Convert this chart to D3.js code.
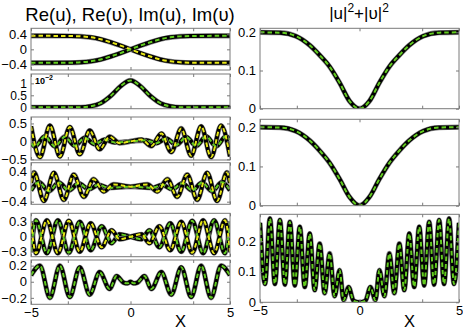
<!DOCTYPE html>
<html><head><meta charset="utf-8">
<script src="https://cdn.jsdelivr.net/npm/d3@7"></script>
<style>
html,body{margin:0;padding:0;background:#fff;}
svg{display:block;font-family:"Liberation Sans",Arial,sans-serif;}
</style></head>
<body><svg id="c" width="463" height="333"></svg>
<script>
// ---------- data (extrema / sample points) ----------
const xTicks = [-5, 0, 5];
const xMinorTicks = [-3.15, 3.15];
const titleLeft = "Re(u), Re(\u03c5), Im(u), Im(\u03c5)";
const xLabel = "X";

const p1Yellow = [[-5,0.36],[-3,0.355],[-2.5,0.345],[-2,0.32],[-1.5,0.27],[-1,0.19],[-0.5,0.1],[0,0],[0.5,-0.1],[1,-0.19],[1.5,-0.27],[2,-0.32],[2.5,-0.345],[3,-0.355],[5,-0.36]];
const p1Green  = [[-5,-0.36],[-3,-0.355],[-2.5,-0.345],[-2,-0.32],[-1.5,-0.27],[-1,-0.19],[-0.5,-0.1],[0,0],[0.5,0.1],[1,0.19],[1.5,0.27],[2,0.32],[2.5,0.345],[3,0.355],[5,0.36]];
const p1Ticks = [-0.4, 0, 0.4];

const p2Green = [[-5,0],[-2.5,0],[-2,0.04],[-1.5,0.17],[-1,0.47],[-0.5,0.88],[0,1.12],[0.5,0.88],[1,0.47],[1.5,0.17],[2,0.04],[2.5,0],[5,0]];
const p2Ticks = [0, 0.5, 1];

const p3Yellow = [[-5,0.42],[-4.55,-0.44],[-4.05,0.44],[-3.55,-0.42],[-3.05,0.4],[-2.55,-0.36],[-2.05,0.3],[-1.55,-0.22],[-1.05,0.13],[-0.55,-0.05],[0,0],[0.55,0.05],[1.05,-0.13],[1.55,0.22],[2.05,-0.3],[2.55,0.36],[3.05,-0.4],[3.55,0.42],[4.05,-0.44],[4.55,0.44],[5,-0.42]];
const p3Green  = [[-5,-0.05],[-4.8,-0.14],[-4.3,0.14],[-3.8,-0.14],[-3.3,0.13],[-2.8,-0.12],[-2.3,0.1],[-1.8,-0.08],[-1.3,0.05],[-0.8,-0.03],[0,0],[0.8,0.03],[1.3,-0.05],[1.8,0.08],[2.3,-0.1],[2.8,0.12],[3.3,-0.13],[3.8,0.14],[4.3,-0.14],[4.8,0.14],[5,0.05]];
const p3Ticks = [-0.5, 0, 0.5];

const p4Yellow = [[-5,0.1],[-4.85,0.38],[-4.35,-0.38],[-3.85,0.37],[-3.35,-0.35],[-2.85,0.32],[-2.35,-0.27],[-1.85,0.2],[-1.35,-0.13],[-0.85,0.06],[0,0],[0.85,0.06],[1.35,-0.13],[1.85,0.2],[2.35,-0.27],[2.85,0.32],[3.35,-0.35],[3.85,0.37],[4.35,-0.38],[4.85,0.38],[5,0.1]];
const p4Green  = [[-5,-0.1],[-4.6,0.12],[-4.1,-0.12],[-3.6,0.11],[-3.1,-0.1],[-2.6,0.09],[-2.1,-0.07],[-1.6,0.05],[-1.1,-0.03],[0,0],[1.1,-0.03],[1.6,0.05],[2.1,-0.07],[2.6,0.09],[3.1,-0.1],[3.6,0.11],[4.1,-0.12],[4.6,0.12],[5,-0.1]];
const p4Ticks = [-0.4, 0, 0.4];

const p5Yellow = [[-5,0.3],[-4.75,-0.33],[-4.2,0.33],[-3.65,-0.33],[-3.1,0.32],[-2.55,-0.3],[-2,0.27],[-1.45,-0.21],[-0.95,0.13],[-0.55,-0.05],[0,0],[0.55,0.05],[0.95,-0.13],[1.45,0.21],[2,-0.27],[2.55,0.3],[3.1,-0.32],[3.65,0.33],[4.2,-0.33],[4.75,0.33],[5,-0.3]];
const p5Green  = [[-5,-0.3],[-4.75,0.33],[-4.2,-0.33],[-3.65,0.33],[-3.1,-0.32],[-2.55,0.3],[-2,-0.27],[-1.45,0.21],[-0.95,-0.13],[-0.55,0.05],[0,0],[0.55,-0.05],[0.95,0.13],[1.45,-0.21],[2,0.27],[2.55,-0.3],[3.1,0.32],[3.65,-0.33],[4.2,0.33],[4.75,-0.33],[5,0.3]];
const p5Ticks = [-0.3, 0, 0.3];

const p6Green = [[-5,0.08],[-4.55,0.2],[-4.05,-0.2],[-3.55,0.2],[-3.05,-0.19],[-2.55,0.18],[-2.05,-0.16],[-1.55,0.12],[-1.05,-0.09],[-0.7,0.07],[-0.35,-0.01],[-0.15,-0.02],[0,0],[0.15,-0.02],[0.35,-0.01],[0.7,0.07],[1.05,-0.09],[1.55,0.12],[2.05,-0.16],[2.55,0.18],[3.05,-0.19],[3.55,0.2],[4.05,-0.2],[4.55,0.2],[5,0.08]];
const p6Ticks = [-0.2, 0, 0.2];

const r1Green = [[-5,0.2],[-4,0.199],[-3.2,0.19],[-2.5,0.166],[-2,0.14],[-1.5,0.11],[-1,0.068],[-0.5,0.02],[0,0],[0.5,0.02],[1,0.068],[1.5,0.11],[2,0.14],[2.5,0.166],[3.2,0.19],[4,0.199],[5,0.2]];
const r1Ticks = [0, 0.1, 0.2];
const r2Green = [[-5,0.2],[-4,0.199],[-3.2,0.19],[-2.5,0.166],[-2,0.14],[-1.5,0.109],[-1,0.068],[-0.5,0.022],[0,0],[0.5,0.022],[1,0.068],[1.5,0.109],[2,0.14],[2.5,0.166],[3.2,0.19],[4,0.199],[5,0.2]];
const r2Ticks = [0, 0.1, 0.2];
const r3Green = [[-5,0.26],[-4.75,0.06],[-4.5,0.274],[-4.25,0.06],[-4.0,0.269],[-3.75,0.058],[-3.5,0.263],[-3.25,0.055],[-3.0,0.247],[-2.75,0.05],[-2.5,0.225],[-2.25,0.04],[-2.0,0.192],[-1.75,0.03],[-1.5,0.16],[-1.25,0.02],[-1.0,0.105],[-0.8,0.007],[-0.55,0.05],[-0.3,0.005],[0,0],[0.3,0.005],[0.55,0.05],[0.8,0.007],[1.0,0.105],[1.25,0.02],[1.5,0.16],[1.75,0.03],[2.0,0.192],[2.25,0.04],[2.5,0.225],[2.75,0.05],[3.0,0.247],[3.25,0.055],[3.5,0.263],[3.75,0.058],[4.0,0.269],[4.25,0.06],[4.5,0.274],[4.75,0.06],[5,0.26]];
const r3Ticks = [0, 0.1, 0.2];

// ---------- layout ----------
const svg = d3.select("#c");
const YEL = "#e6e617", GRN = "#62cc1f";
const L = [31, 230], R = [260, 459];

const panels = [
  {xr:L, yr:[28.3,70],  dom:[-0.55,0.56], ticks:p1Ticks, series:[[p1Yellow,YEL],[p1Green,GRN]]},
  {xr:L, yr:[74,108.7], dom:[-0.06,1.39], ticks:p2Ticks, series:[[p2Green,GRN]], exp:true, fs:12},
  {xr:L, yr:[117,160],  dom:[-0.52,0.68], ticks:p3Ticks, series:[[p3Green,GRN],[p3Yellow,YEL]]},
  {xr:L, yr:[162.7,204.3], dom:[-0.47,0.64], ticks:p4Ticks, series:[[p4Green,GRN],[p4Yellow,YEL]]},
  {xr:L, yr:[213.3,256.7], dom:[-0.4,0.47], ticks:p5Ticks, series:[[p5Green,GRN],[p5Yellow,YEL]]},
  {xr:L, yr:[260,304.3], dom:[-0.28,0.27], ticks:p6Ticks, series:[[p6Green,GRN]], xlab:true},
  {xr:R, yr:[28.3,108.7], dom:[0,0.2105], ticks:r1Ticks, series:[[r1Green,GRN]]},
  {xr:R, yr:[119.3,205.7], dom:[0,0.22], ticks:r2Ticks, series:[[r2Green,GRN]]},
  {xr:R, yr:[214.3,302.3], dom:[0,0.288], ticks:r3Ticks, series:[[r3Green,GRN]], xlab:true}
];

const fmt = v => (v < 0 ? "\u2212" : "") + String(Math.abs(v));

panels.forEach((p, i) => {
  const x = d3.scaleLinear().domain([-5, 5]).range(p.xr);
  const y = d3.scaleLinear().domain(p.dom).range([p.yr[1], p.yr[0]]);
  const g = svg.append("g");
  const cid = "clip" + i;
  svg.append("clipPath").attr("id", cid).append("rect")
    .attr("x", p.xr[0]).attr("y", p.yr[0]).attr("width", p.xr[1]-p.xr[0]).attr("height", p.yr[1]-p.yr[0]);

  const line = d3.line().x(d => x(d[0])).y(d => y(d[1])).curve(d3.curveMonotoneX);
  const lg = g.append("g").attr("clip-path", `url(#${cid})`);
  p.series.forEach(([data, col]) => {
    lg.append("path").attr("d", line(data)).attr("fill", "none")
      .attr("stroke", "#888").attr("stroke-width", 5.2);
    lg.append("path").attr("d", line(data)).attr("fill", "none")
      .attr("stroke", "#000").attr("stroke-width", 4);
  });
  p.series.forEach(([data, col]) => {
    lg.append("path").attr("d", line(data)).attr("fill", "none")
      .attr("stroke", col).attr("stroke-width", 2).attr("stroke-dasharray", "4.5,3");
  });

  g.append("rect").attr("x", p.xr[0]).attr("y", p.yr[0])
    .attr("width", p.xr[1]-p.xr[0]).attr("height", p.yr[1]-p.yr[0])
    .attr("fill", "none").attr("stroke", "#7a7a7a").attr("stroke-width", 1);

  const fs = p.fs || 13;
  const ax = d3.axisBottom(x).tickValues(xTicks.concat(xMinorTicks)).tickSize(-3).tickPadding(3)
    .tickFormat(v => xTicks.includes(v) && p.xlab ? fmt(v) : "");
  const axT = d3.axisTop(x).tickValues(xTicks.concat(xMinorTicks)).tickSize(-3).tickFormat("");
  const ay = d3.axisLeft(y).tickValues(p.ticks).tickSize(-3).tickPadding(4).tickFormat(fmt);
  const ayR = d3.axisRight(y).tickValues(p.ticks).tickSize(-3).tickFormat("");
  [[ax, `translate(0,${p.yr[1]})`], [axT, `translate(0,${p.yr[0]})`], [ay, `translate(${p.xr[0]},0)`], [ayR, `translate(${p.xr[1]},0)`]]
    .forEach(([a, t]) => {
      const ag = g.append("g").attr("transform", t).call(a);
      ag.select(".domain").remove();
      ag.selectAll("line").attr("stroke", "#7a7a7a");
      ag.selectAll("text").attr("fill", "#000").attr("font-size", fs)
        .attr("font-family", "Liberation Sans, Arial, sans-serif");
    });
  if (p.exp) {
    const t = g.append("text").attr("x", p.xr[0] + 4).attr("y", p.yr[0] + 10)
      .attr("font-size", 9).attr("font-weight", "bold").attr("fill", "#000");
    t.append("tspan").text("10");
    t.append("tspan").attr("dy", -4).attr("font-size", 7).text("\u22122");
  }
  if (p.xlab) {
    g.append("text").attr("x", (p.xr[0]+p.xr[1])/2 + 50).attr("y", 327)
      .attr("text-anchor", "middle").attr("font-size", 16.5).attr("fill", "#000").text(xLabel);
  }
});

// titles
svg.append("text").attr("x", 130).attr("y", 21).attr("text-anchor", "middle")
  .attr("font-size", 18.5).attr("fill", "#000").text(titleLeft);
const tr = svg.append("text").attr("x", 359).attr("y", 18.5).attr("text-anchor", "middle")
  .attr("font-size", 17).attr("fill", "#000");
tr.append("tspan").text("|u|");
tr.append("tspan").attr("dy", -7).attr("font-size", 12).text("2");
tr.append("tspan").attr("dy", 7).text("+|\u03c5|");
tr.append("tspan").attr("dy", -7).attr("font-size", 12).text("2");
</script></body></html>
